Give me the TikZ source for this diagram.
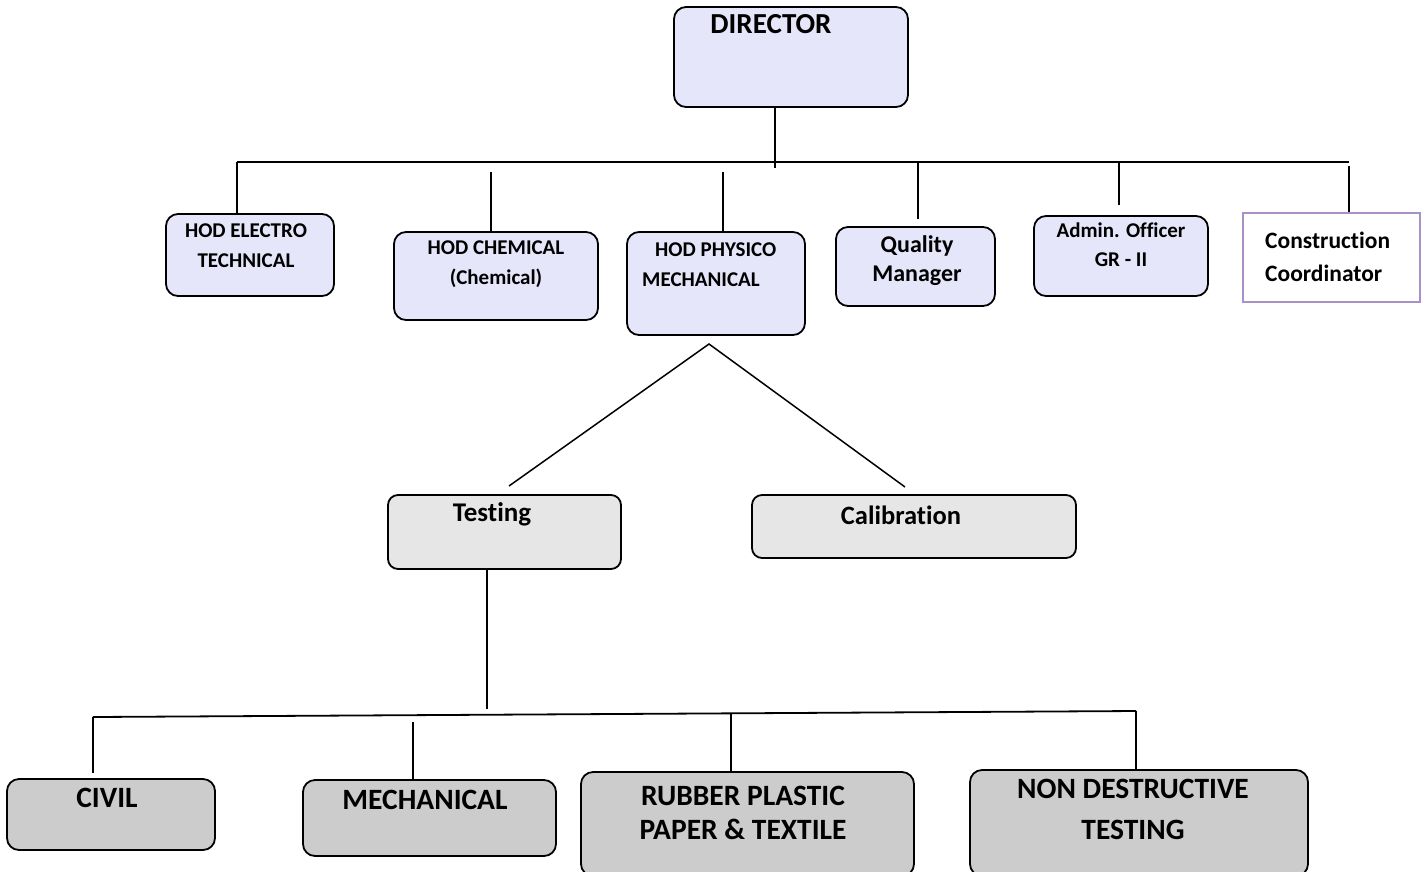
\documentclass[tikz,border=0pt]{standalone}
\usepackage{fontspec}
\setmainfont{Carlito}[Ligatures=CommonOff]
\begin{document}
\begin{tikzpicture}[x=1pt,y=-1pt,
  conn/.style={line width=1.8pt},
  lav/.style={draw, line width=1.8pt, rounded corners=12pt, fill=lavboxc, inner sep=0pt},
  grayA/.style={draw, line width=1.8pt, rounded corners=10pt, fill=grayAc, inner sep=0pt},
  grayB/.style={draw, line width=1.8pt, rounded corners=12pt, fill=grayBc, inner sep=0pt},
  txt/.style={font=\bfseries, inner sep=0pt, align=center},
]
\definecolor{lavboxc}{HTML}{E6E6FA}
\definecolor{grayAc}{HTML}{E6E6E6}
\definecolor{grayBc}{HTML}{CCCCCC}
\definecolor{purpc}{HTML}{A890C8}
\useasboundingbox (0,0) rectangle (1426,871);

% boxes
\node[lav, minimum width=234pt, minimum height=100pt] (dir) at (791,57) {};
\node[lav, minimum width=168pt, minimum height=82pt] (ele) at (250,255) {};
\node[lav, minimum width=204pt, minimum height=88pt] (che) at (496,276) {};
\node[lav, minimum width=178pt, minimum height=103pt] (phy) at (716,283.5) {};
\node[lav, minimum width=159pt, minimum height=79pt] (qm) at (915.5,266.5) {};
\node[lav, minimum width=174pt, minimum height=80pt] (adm) at (1121,256) {};
\node[draw=purpc, line width=2pt, fill=white, inner sep=0pt, minimum width=177pt, minimum height=89pt] (con) at (1331.5,257.5) {};
\node[grayA, minimum width=233pt, minimum height=74pt] (tes) at (504.5,532) {};
\node[grayA, minimum width=324pt, minimum height=63pt] (cal) at (914,526.5) {};
\node[grayB, minimum width=208pt, minimum height=71pt] (civ) at (111,814.5) {};
\node[grayB, minimum width=253pt, minimum height=76pt] (mec) at (429.5,818) {};
\node[grayB, minimum width=333pt, minimum height=104pt] (rub) at (747.5,824) {};
\node[grayB, minimum width=338pt, minimum height=106pt] (ndt) at (1139,823) {};

% texts
\node[txt, font=\bfseries\fontsize{29}{30}\selectfont] (dirT) at (771,24) {DIRECTOR};
\node[txt, font=\bfseries\fontsize{21}{30}\selectfont] (eleT) at (246,246) {HOD ELECTRO\\TECHNICAL};
\node[txt, font=\bfseries\fontsize{21}{30}\selectfont] (cheT) at (496,264) {HOD CHEMICAL\\(Chemical)};
\node[txt, font=\bfseries\fontsize{21}{30}\selectfont, align=left, anchor=west] (phyT) at (642,265) {\hspace*{13pt}HOD PHYSICO\\MECHANICAL};
\node[txt, font=\bfseries\fontsize{24}{29}\selectfont] (qmT) at (917,260.5) {Quality\\Manager};
\node[txt, font=\bfseries\fontsize{21}{29}\selectfont] (admT) at (1121,244.5) {Admin. Officer\\GR - II};
\node[txt, font=\bfseries\fontsize{23.5}{33}\selectfont, align=left, anchor=west] (conT) at (1265,256.5) {Construction\\Coordinator};
\node[txt, font=\bfseries\fontsize{27}{30}\selectfont] (tesT) at (492,514) {Testing};
\node[txt, font=\bfseries\fontsize{26.5}{30}\selectfont] (calT) at (901,515) {Calibration};
\node[txt, font=\bfseries\fontsize{29.5}{34}\selectfont] (civT) at (107,798) {CIVIL};
\node[txt, font=\bfseries\fontsize{29.5}{34}\selectfont] (mecT) at (425,800) {MECHANICAL};
\node[txt, font=\bfseries\fontsize{29.5}{34}\selectfont] (rubT) at (743,813) {RUBBER PLASTIC\\PAPER \& TEXTILE};
\node[txt, font=\bfseries\fontsize{29.5}{41}\selectfont] (ndtT) at (1133,809.5) {NON DESTRUCTIVE\\TESTING};

% top bus
\coordinate (hl) at (237,162);
\coordinate (hr) at (1349,162);
\coordinate (dj) at (775,168);
\coordinate (s1) at (237,162);
\coordinate (s2) at (491,172);
\coordinate (s3) at (723,172);
\coordinate (s4) at (918,162);
\coordinate (s5) at (1119,162);
\coordinate (s6) at (1349,166);
\coordinate (e4) at (918,219);
\coordinate (e5) at (1119,205);
\draw[conn] (hl) -- (hr);
\draw[conn] (dir.south -| dj) -- (dj);
\draw[conn] (s1) -- (s1 |- ele.north);
\draw[conn] (s2) -- (s2 |- che.north);
\draw[conn] (s3) -- (s3 |- phy.north);
\draw[conn] (s4) -- (e4);
\draw[conn] (s5) -- (e5);
\draw[conn] (s6) -- (s6 |- con.north);

% diagonals
\coordinate (apex) at (709,344);
\coordinate (dl) at (509,486);
\coordinate (dr) at (905,487);
\draw[line width=1.5pt] (dl) -- (apex) -- (dr);

% testing bus
\coordinate (tj) at (487,709);
\coordinate (bl) at (93,717);
\coordinate (br) at (1136,711);
\coordinate (b2) at (413,722);
\coordinate (b3) at (731,714);
\coordinate (e1) at (93,773);
\draw[conn] (tes.south -| tj) -- (tj);
\draw[conn] (bl) -- (br);
\draw[conn] (bl) -- (e1);
\draw[conn] (b2) -- (b2 |- mec.north);
\draw[conn] (b3) -- (b3 |- rub.north);
\draw[conn] (br) -- (br |- ndt.north);
\end{tikzpicture}
\end{document}
